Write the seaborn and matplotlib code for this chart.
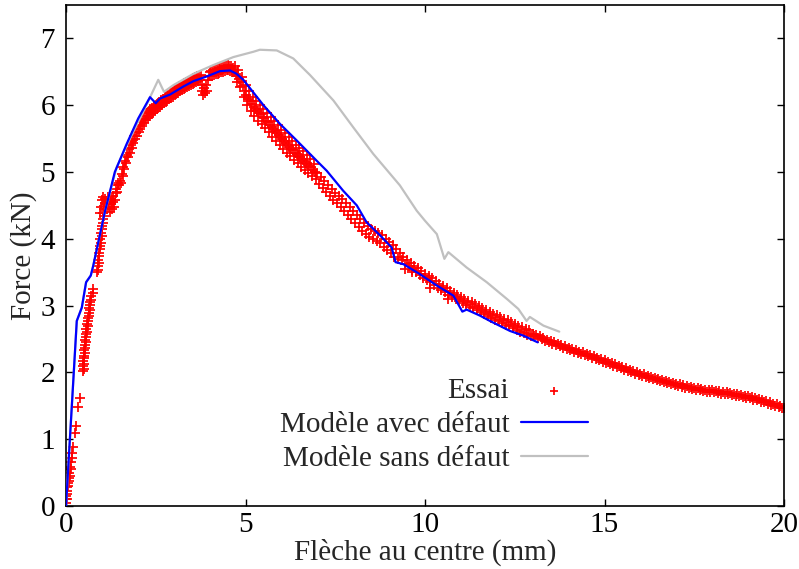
import pandas as pd
import seaborn as sns
import matplotlib.pyplot as plt

essai_start = [(0.00, 0.05), (0.00, 0.10), (0.01, 0.15), (0.02, 0.10), (0.02, 0.22), (0.03, 0.28),
               (0.04, 0.18), (0.05, 0.35), (0.06, 0.30), (0.07, 0.42), (0.08, 0.38), (0.09, 0.50),
               (0.10, 0.45), (0.11, 0.58), (0.13, 0.66), (0.14, 0.55), (0.16, 0.72), (0.18, 0.80),
               (0.19, 0.88), (0.25, 1.10), (0.27, 1.20), (0.34, 1.48), (0.38, 1.62),
               (0.46, 2.02), (0.49, 2.05), (0.47, 2.09), (0.50, 2.13), (0.48, 2.17), (0.51, 2.21),
               (0.49, 2.25), (0.52, 2.29), (0.51, 2.33), (0.54, 2.37), (0.52, 2.41), (0.55, 2.45),
               (0.54, 2.49), (0.57, 2.53), (0.55, 2.57), (0.58, 2.61), (0.57, 2.65), (0.60, 2.69),
               (0.59, 2.73), (0.62, 2.77), (0.61, 2.81), (0.64, 2.85), (0.63, 2.89), (0.66, 2.93),
               (0.65, 2.97), (0.68, 3.01), (0.67, 3.05), (0.70, 3.09), (0.71, 3.14), (0.74, 3.19),
               (0.76, 3.25)]

essai_knee = [(0.86, 3.50), (0.89, 3.54), (0.88, 3.59), (0.91, 3.64), (0.90, 3.69), (0.93, 3.74),
              (0.92, 3.79), (0.95, 3.84), (0.94, 3.89), (0.97, 3.94), (0.96, 3.99), (0.99, 4.04),
              (0.98, 4.09), (1.01, 4.14), (1.00, 4.19), (1.03, 4.24), (1.02, 4.29), (1.05, 4.34),
              (1.04, 4.39), (1.07, 4.44), (1.06, 4.49), (1.09, 4.54),
              (0.96, 4.38), (0.98, 4.48), (1.00, 4.58), (1.02, 4.63), (1.10, 4.60), (1.12, 4.52),
              (1.14, 4.44), (1.16, 4.56), (1.18, 4.62), (1.20, 4.48), (1.22, 4.40), (1.24, 4.52),
              (1.26, 4.60), (1.28, 4.45), (1.30, 4.55), (1.32, 4.64), (1.34, 4.48), (1.36, 4.58),
              (1.38, 4.68), (1.40, 4.74), (1.42, 4.70), (1.44, 4.80), (1.46, 4.84), (1.48, 4.80)]

essai_rise = [(1.500, 4.86), (1.525, 4.83), (1.550, 4.97), (1.575, 4.94), (1.600, 5.08), (1.625, 5.04),
              (1.650, 5.17), (1.675, 5.13), (1.700, 5.26), (1.725, 5.22), (1.750, 5.34), (1.775, 5.29),
              (1.800, 5.41), (1.825, 5.36), (1.850, 5.47), (1.875, 5.43), (1.900, 5.54), (1.925, 5.49),
              (1.950, 5.60), (1.975, 5.54), (2.000, 5.65), (2.025, 5.60), (2.050, 5.70), (2.075, 5.65),
              (2.100, 5.75), (2.125, 5.69), (2.150, 5.80), (2.175, 5.74), (2.200, 5.84), (2.225, 5.78),
              (2.250, 5.88), (2.275, 5.81), (2.300, 5.91), (2.325, 5.84), (2.350, 5.94), (2.375, 5.87),
              (2.400, 5.96), (2.425, 5.89), (2.450, 5.99), (2.475, 5.92), (2.500, 6.01), (2.525, 5.94),
              (2.550, 6.03), (2.575, 5.96), (2.600, 6.05), (2.625, 5.98), (2.650, 6.08), (2.675, 6.01),
              (2.700, 6.10), (2.725, 6.03), (2.750, 6.12), (2.775, 6.05), (2.800, 6.14), (2.825, 6.07),
              (2.850, 6.16), (2.875, 6.09), (2.900, 6.18), (2.925, 6.11), (2.950, 6.20), (2.975, 6.13),
              (3.000, 6.22), (3.025, 6.15), (3.050, 6.24), (3.075, 6.17), (3.100, 6.26), (3.125, 6.19),
              (3.150, 6.28), (3.175, 6.21), (3.200, 6.30), (3.225, 6.23), (3.250, 6.32), (3.275, 6.24),
              (3.300, 6.33), (3.325, 6.26), (3.350, 6.35), (3.375, 6.27), (3.400, 6.36), (3.425, 6.29),
              (3.450, 6.38), (3.475, 6.30), (3.500, 6.39), (3.525, 6.32), (3.550, 6.41), (3.575, 6.33),
              (3.600, 6.42), (3.625, 6.35), (3.650, 6.43), (3.675, 6.36), (3.700, 6.44), (3.725, 6.37),
              (3.750, 6.45), (3.775, 6.30), (3.800, 6.22), (3.825, 6.16), (3.850, 6.26), (3.875, 6.19),
              (3.900, 6.30), (3.925, 6.22), (3.950, 6.38), (3.975, 6.44), (4.000, 6.50), (4.025, 6.43),
              (4.050, 6.51), (4.075, 6.44), (4.100, 6.52), (4.125, 6.45), (4.150, 6.53), (4.175, 6.46),
              (4.200, 6.54), (4.225, 6.47), (4.250, 6.55), (4.275, 6.48), (4.300, 6.56), (4.325, 6.49),
              (4.350, 6.57), (4.375, 6.50), (4.400, 6.58), (4.425, 6.51), (4.450, 6.59), (4.475, 6.52),
              (4.500, 6.60), (4.525, 6.52), (4.550, 6.59), (4.575, 6.51), (4.600, 6.58), (4.625, 6.49),
              (4.650, 6.56)]

essai_fall = [(4.675, 6.50), (4.700, 6.58), (4.725, 6.46), (4.750, 6.35), (4.775, 6.43), (4.800, 6.52),
              (4.825, 6.39), (4.850, 6.27), (4.875, 6.34), (4.900, 6.42), (4.925, 6.28), (4.950, 6.13),
              (4.975, 6.21), (5.000, 6.30), (5.025, 6.16), (5.050, 6.00), (5.075, 6.10), (5.100, 6.21),
              (5.125, 6.06), (5.150, 5.91), (5.175, 6.02), (5.200, 6.13), (5.225, 5.98), (5.250, 5.84),
              (5.275, 5.95), (5.300, 6.06), (5.325, 5.92), (5.350, 5.77), (5.375, 5.89), (5.400, 6.01),
              (5.425, 5.87), (5.450, 5.72), (5.475, 5.83), (5.500, 5.95), (5.525, 5.81), (5.550, 5.66),
              (5.575, 5.77), (5.600, 5.89), (5.625, 5.75), (5.650, 5.60), (5.675, 5.71), (5.700, 5.83),
              (5.725, 5.68), (5.750, 5.53), (5.775, 5.65), (5.800, 5.76), (5.825, 5.62), (5.850, 5.47),
              (5.875, 5.58), (5.900, 5.70), (5.925, 5.55), (5.950, 5.40), (5.975, 5.52), (6.000, 5.63),
              (6.025, 5.49), (6.050, 5.35), (6.075, 5.46), (6.100, 5.58), (6.125, 5.44), (6.150, 5.29),
              (6.175, 5.40), (6.200, 5.52), (6.225, 5.38), (6.250, 5.24), (6.275, 5.35), (6.300, 5.47),
              (6.325, 5.33), (6.350, 5.18), (6.375, 5.29), (6.400, 5.41), (6.425, 5.27), (6.450, 5.13),
              (6.475, 5.24), (6.500, 5.36), (6.525, 5.22), (6.550, 5.08), (6.575, 5.19), (6.600, 5.31),
              (6.625, 5.17), (6.650, 5.03), (6.675, 5.14), (6.700, 5.26), (6.725, 5.12), (6.750, 4.98),
              (6.775, 5.09), (6.800, 5.20), (6.825, 5.07), (6.850, 4.94), (6.875, 5.03), (6.900, 5.12),
              (6.925, 5.00), (6.950, 4.90),
              (7.00, 4.99), (7.05, 4.82), (7.10, 4.93), (7.15, 4.76), (7.20, 4.87), (7.25, 4.70),
              (7.30, 4.81), (7.35, 4.64), (7.40, 4.74), (7.45, 4.58), (7.50, 4.69), (7.55, 4.53),
              (7.60, 4.64), (7.65, 4.48), (7.70, 4.59), (7.75, 4.42), (7.80, 4.53), (7.85, 4.36),
              (7.90, 4.47), (7.95, 4.30), (8.00, 4.41), (8.05, 4.24), (8.10, 4.35), (8.15, 4.18),
              (8.20, 4.29), (8.25, 4.12), (8.30, 4.23), (8.35, 4.07), (8.40, 4.19), (8.45, 4.03),
              (8.50, 4.15), (8.55, 4.00), (8.60, 4.12), (8.65, 3.97), (8.70, 4.09), (8.75, 3.93),
              (8.80, 4.05), (8.85, 3.88), (8.90, 4.00), (8.95, 3.83), (9.00, 3.95), (9.05, 3.78),
              (9.10, 3.90), (9.15, 3.73), (9.20, 3.85), (9.25, 3.70)]

essai_tail = [(9.30, 3.78), (9.35, 3.68), (9.40, 3.73), (9.45, 3.63), (9.50, 3.69), (9.55, 3.59),
              (9.60, 3.64), (9.65, 3.54), (9.70, 3.60), (9.75, 3.50), (9.80, 3.56), (9.85, 3.46),
              (9.90, 3.52), (9.95, 3.42), (10.00, 3.48), (10.05, 3.38), (10.10, 3.44), (10.15, 3.35),
              (10.20, 3.41), (10.25, 3.31), (10.30, 3.37), (10.35, 3.27), (10.40, 3.33), (10.45, 3.23),
              (10.50, 3.29), (10.55, 3.20), (10.60, 3.26), (10.65, 3.16), (10.70, 3.22), (10.75, 3.13),
              (10.80, 3.19), (10.85, 3.10), (10.90, 3.16), (10.95, 3.07), (11.00, 3.13), (11.05, 3.04),
              (11.10, 3.10), (11.15, 3.01), (11.20, 3.07), (11.25, 2.98), (11.30, 3.05), (11.35, 2.96),
              (11.40, 3.02), (11.45, 2.93), (11.50, 2.99), (11.55, 2.90), (11.60, 2.96), (11.65, 2.87),
              (11.70, 2.94), (11.75, 2.85), (11.80, 2.91), (11.85, 2.82), (11.90, 2.88), (11.95, 2.79),
              (12.00, 2.86), (12.05, 2.77), (12.10, 2.83), (12.15, 2.74), (12.20, 2.80), (12.25, 2.71),
              (12.30, 2.78), (12.35, 2.69), (12.40, 2.75), (12.45, 2.66), (12.50, 2.72), (12.55, 2.63),
              (12.60, 2.70), (12.65, 2.61), (12.70, 2.68), (12.75, 2.59), (12.80, 2.65), (12.85, 2.56),
              (12.90, 2.63), (12.95, 2.54),
              (13.00, 2.58), (13.05, 2.54), (13.10, 2.56), (13.15, 2.52), (13.20, 2.54), (13.25, 2.50),
              (13.30, 2.52), (13.35, 2.47), (13.40, 2.49), (13.45, 2.45), (13.50, 2.47), (13.55, 2.43),
              (13.60, 2.45), (13.65, 2.41), (13.70, 2.43), (13.75, 2.39), (13.80, 2.41), (13.85, 2.37),
              (13.90, 2.39), (13.95, 2.35), (14.00, 2.37), (14.05, 2.33), (14.10, 2.35), (14.15, 2.31),
              (14.20, 2.33), (14.25, 2.29), (14.30, 2.31), (14.35, 2.27), (14.40, 2.30), (14.45, 2.26),
              (14.50, 2.28), (14.55, 2.24), (14.60, 2.26), (14.65, 2.22), (14.70, 2.24), (14.75, 2.20),
              (14.80, 2.22), (14.85, 2.18), (14.90, 2.20), (14.95, 2.16), (15.00, 2.18), (15.05, 2.14),
              (15.10, 2.16), (15.15, 2.12), (15.20, 2.14), (15.25, 2.10), (15.30, 2.12), (15.35, 2.08),
              (15.40, 2.10), (15.45, 2.06), (15.50, 2.08), (15.55, 2.04), (15.60, 2.06), (15.65, 2.02),
              (15.70, 2.04), (15.75, 2.00), (15.80, 2.02), (15.85, 1.98), (15.90, 2.00), (15.95, 1.96),
              (16.00, 1.98), (16.05, 1.95), (16.10, 1.97), (16.15, 1.93), (16.20, 1.95), (16.25, 1.91),
              (16.30, 1.93), (16.35, 1.90), (16.40, 1.92), (16.45, 1.88), (16.50, 1.90), (16.55, 1.87),
              (16.60, 1.89), (16.65, 1.85), (16.70, 1.87), (16.75, 1.84), (16.80, 1.86), (16.85, 1.82),
              (16.90, 1.84), (16.95, 1.81), (17.00, 1.83), (17.05, 1.80), (17.10, 1.82), (17.15, 1.78),
              (17.20, 1.81), (17.25, 1.77), (17.30, 1.79), (17.35, 1.76), (17.40, 1.78), (17.45, 1.75),
              (17.50, 1.77), (17.55, 1.74), (17.60, 1.76), (17.65, 1.73), (17.70, 1.75), (17.75, 1.72),
              (17.80, 1.74), (17.85, 1.71), (17.90, 1.74), (17.95, 1.71), (18.00, 1.73), (18.05, 1.70),
              (18.10, 1.72), (18.15, 1.69), (18.20, 1.72), (18.25, 1.68), (18.30, 1.71), (18.35, 1.68),
              (18.40, 1.70), (18.45, 1.67), (18.50, 1.69), (18.55, 1.66), (18.60, 1.68), (18.65, 1.65),
              (18.70, 1.67), (18.75, 1.64), (18.80, 1.66), (18.85, 1.63), (18.90, 1.65), (18.95, 1.62),
              (19.00, 1.64), (19.05, 1.61), (19.10, 1.63), (19.15, 1.59), (19.20, 1.61), (19.25, 1.58),
              (19.30, 1.60), (19.35, 1.56), (19.40, 1.58), (19.45, 1.55), (19.50, 1.57), (19.55, 1.53),
              (19.60, 1.55), (19.65, 1.51), (19.70, 1.53), (19.75, 1.50), (19.80, 1.52), (19.85, 1.48),
              (19.90, 1.50), (19.95, 1.46), (20.00, 1.47),
              (9.45, 3.55), (9.65, 3.50), (10.15, 3.27), (10.65, 3.10)]

# Modele avec defaut
avec_x = [0.00, 0.30, 0.44, 0.56, 0.69, 0.76, 0.90, 1.09, 1.36, 1.69, 2.01, 2.34, 2.50, 2.62, 2.90,
          3.27, 3.55, 3.92, 4.29, 4.57, 4.75, 4.94, 5.50, 5.96, 6.43, 6.98, 7.26, 7.72, 8.10, 8.37,
          8.75, 9.07, 9.18, 9.40, 9.86, 10.33, 10.79, 11.04, 11.16, 11.53, 11.81, 12.37, 12.74, 13.14]
avec_y = [0.00, 2.77, 2.97, 3.35, 3.45, 3.60, 3.95, 4.42, 5.00, 5.42, 5.80, 6.12, 6.03, 6.10, 6.16,
          6.28, 6.36, 6.43, 6.51, 6.52, 6.47, 6.38, 6.00, 5.72, 5.47, 5.17, 5.02, 4.72, 4.50, 4.25,
          4.05, 3.87, 3.65, 3.62, 3.47, 3.30, 3.15, 2.91, 2.94, 2.85, 2.77, 2.62, 2.55, 2.45]

# Modele sans defaut
sans_x = [0.00, 0.30, 0.44, 0.56, 0.69, 0.76, 0.90, 1.09, 1.41, 1.78, 2.15, 2.57, 2.73, 2.99, 3.55,
          4.10, 4.66, 5.22, 5.40, 5.87, 6.33, 6.80, 7.45, 8.00, 8.56, 9.30, 9.77, 10.00, 10.33, 10.54,
          10.65, 11.16, 11.72, 12.28, 12.60, 12.83, 12.92, 13.30, 13.74]
sans_y = [0.00, 2.77, 2.97, 3.35, 3.45, 3.60, 3.95, 4.42, 5.07, 5.50, 5.90, 6.38, 6.20, 6.30, 6.47,
          6.60, 6.72, 6.80, 6.83, 6.82, 6.70, 6.45, 6.07, 5.67, 5.27, 4.80, 4.42, 4.27, 4.07, 3.70,
          3.80, 3.57, 3.35, 3.10, 2.95, 2.77, 2.83, 2.70, 2.61]

essai = pd.DataFrame(essai_start + essai_knee + essai_rise + essai_fall + essai_tail,
                     columns=["x", "y"])

sns.set_theme(style="ticks")
plt.rcParams['font.family'] = ['Liberation Serif', 'DejaVu Serif']

fig = plt.figure(figsize=(7.99, 5.69), dpi=100)
ax = fig.add_axes([66 / 799, 1 - 506 / 569, (784 - 66) / 799, (506 - 5) / 569])

sns.scatterplot(data=essai, x="x", y="y", marker="+", color="#ff0000", s=52, linewidth=1.25,
                ax=ax, label="Essai", zorder=2)
sns.lineplot(x=avec_x, y=avec_y, sort=False, estimator=None, color="#0000ff", linewidth=1.6,
             ax=ax, label="Modèle avec défaut", zorder=4)
sns.lineplot(x=sans_x, y=sans_y, sort=False, estimator=None, color="#c0c0c0", linewidth=1.6,
             ax=ax, label="Modèle sans défaut", zorder=3)

ax.set_xlim(0, 20)
ax.set_ylim(0, 7.5)
ax.set_xticks([0, 5, 10, 15, 20])
ax.set_yticks([0, 1, 2, 3, 4, 5, 6, 7])
ax.tick_params(direction="in", length=5, width=1, top=True, right=True, labelsize=21, colors="black")
ax.tick_params(axis="x", pad=4)
ax.tick_params(axis="y", pad=8)
for sp in ax.spines.values():
    sp.set_linewidth(1.2)
    sp.set_color("black")

ax.set_xlabel("Flèche au centre (mm)", fontsize=21, labelpad=1)
ax.set_ylabel("Force (kN)", fontsize=21, labelpad=2)

leg = ax.legend(loc="upper right", bbox_to_anchor=((588 - 66) / 718, (506 - 378) / 501), frameon=False,
                markerfirst=False, fontsize=21, handlelength=2.3, handletextpad=0.4, labelspacing=0.26,
                borderpad=0, borderaxespad=0, scatterpoints=1)
leg.legend_handles[0].set_sizes([30])

plt.savefig("out.png", dpi=100)
